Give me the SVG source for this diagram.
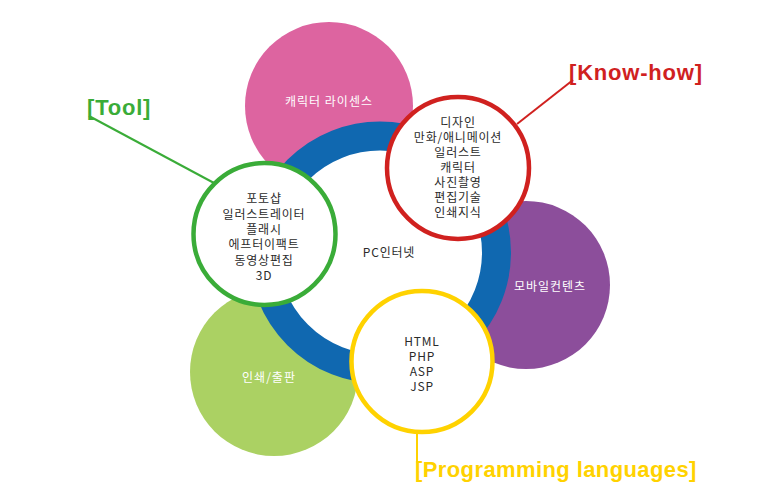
<svg xmlns="http://www.w3.org/2000/svg" width="782" height="501" viewBox="0 0 782 501">
<style>
.t{font-family:"Noto Sans CJK KR","Liberation Sans",sans-serif;font-size:12px;fill:#2b2b2b;text-anchor:middle;letter-spacing:0.8px}
.w{font-family:"Noto Sans CJK KR","Liberation Sans",sans-serif;font-size:12px;fill:#ffffff;text-anchor:middle;letter-spacing:1px}
.lbl{font-family:"Liberation Sans","Noto Sans CJK KR",sans-serif;font-size:22px;font-weight:bold;letter-spacing:0.4px}
.ring{fill:#ffffff;stroke-width:4.5}
</style>
<rect width="782" height="501" fill="#ffffff"/>
<g id="connectors" fill="none" stroke-width="2">
<line x1="517" y1="124" x2="573" y2="80" stroke="#d0211f"/>
<line x1="89" y1="116" x2="214" y2="183" stroke="#3aac38"/>
<line x1="417" y1="434" x2="417" y2="463" stroke="#ffd200"/>
</g>
<g id="character-license">
<circle cx="329" cy="106" r="84" fill="#dd64a0"/>
<text class="w" x="329" y="106">캐릭터 라이센스</text>
</g>
<g id="mobile-contents">
<circle cx="526" cy="285" r="84" fill="#8c4e9b"/>
</g>
<g id="print-publish">
<circle cx="274" cy="372" r="84" fill="#abd163"/>
</g>
<g id="pc-internet">
<circle cx="380" cy="252.5" r="116.5" fill="#ffffff" stroke="#1068b0" stroke-width="29"/>
<text class="t" x="389" y="257">PC인터넷</text>
</g>
<g id="mobile-label">
<text class="w" x="550" y="291">모바일컨텐츠</text>
</g>
<g id="print-label">
<text class="w" x="269" y="382">인쇄/출판</text>
</g>
<g id="tool">
<circle class="ring" cx="264.5" cy="234" r="71" stroke="#3aac38"/>
<text class="t" x="264" y="203">포토샵</text>
<text class="t" x="264" y="219">일러스트레이터</text>
<text class="t" x="264" y="234">플래시</text>
<text class="t" x="264" y="249">에프터이팩트</text>
<text class="t" x="264" y="265">동영상편집</text>
<text class="t" x="264" y="280">3D</text>
</g>
<g id="knowhow">
<circle class="ring" cx="458" cy="168" r="71" stroke="#d0211f"/>
<text class="t" x="458" y="127">디자인</text>
<text class="t" x="458" y="142">만화/애니메이션</text>
<text class="t" x="458" y="157">일러스트</text>
<text class="t" x="458" y="172">캐릭터</text>
<text class="t" x="458" y="187">사진촬영</text>
<text class="t" x="458" y="202">편집기술</text>
<text class="t" x="458" y="217">인쇄지식</text>
</g>
<g id="programming">
<circle class="ring" cx="422" cy="361.5" r="70.5" stroke="#ffd200"/>
<text class="t" x="422" y="346">HTML</text>
<text class="t" x="422" y="361">PHP</text>
<text class="t" x="422" y="376">ASP</text>
<text class="t" x="422" y="391">JSP</text>
</g>
<g id="labels">
<text class="lbl" x="569" y="80" fill="#d0211f" style="letter-spacing:0.8px">[Know-how]</text>
<text class="lbl" x="87" y="115" fill="#3aac38" style="letter-spacing:0.8px">[Tool]</text>
<text class="lbl" x="415" y="477" fill="#ffd200">[Programming languages]</text>
</g>
</svg>
